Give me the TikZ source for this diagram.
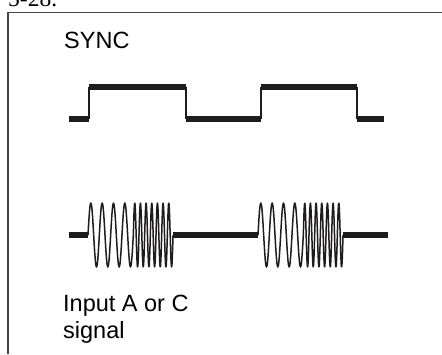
\documentclass[tikz,border=0pt]{standalone}
\usepackage{fontspec}
\setmainfont{Liberation Sans}
\newfontfamily\serifhead{Liberation Serif}
\definecolor{framegray}{RGB}{70,70,70}
\definecolor{traceblack}{RGB}{30,28,28}
\tikzset{
  frameline/.style={line width=1.1pt, draw=framegray},
  thick-trace/.style={line width=6.4pt, draw=traceblack},
  thin-trace/.style={line width=1.5pt, draw=traceblack, line join=round},
  burst-trace/.style={line width=1.5pt, draw=traceblack, line join=round},
  label-text/.style={anchor=base west, inner sep=0pt, font=\fontsize{23.5}{26.5}\selectfont}
}
% #1 = left end of the burst
\newcommand{\burst}[1]{%
  \draw[burst-trace] plot[domain=0:4, samples=81, smooth]
    ({#1+11.33*\x},{235-32*sin(360*\x)});
  \draw[burst-trace] plot[domain=0:7, samples=106, smooth]
    ({#1+45.33+5.67*\x},{235-32*sin(360*\x)});
}

\begin{document}
\begin{tikzpicture}[x=1pt,y=-1pt]
  \useasboundingbox (0,0) rectangle (442,354);
  \node[label-text, font=\serifhead\fontsize{23.5}{26}\selectfont] (figno) at (8,6.5) {5-28.};
  \draw[frameline] (8,354) -- (8,12.5) -- (442,12.5);
  \node[label-text] (sync) at (64,48) {SYNC};
  % square wave
  \foreach \a/\b in {69/89,186/261,357/384} {
    \draw[thick-trace] (\a,119) -- (\b,119);
  }
  \foreach \a/\b in {89/186,261/357} {
    \draw[thick-trace] (\a,87) -- (\b,87);
    \draw[thin-trace] (\a,119) -- (\a,87);
    \draw[thin-trace] (\b,87) -- (\b,119);
  }
  % input signal
  \foreach \a/\b in {69/88,173/258,343/388} {
    \draw[thick-trace] (\a,235) -- (\b,235);
  }
  \foreach \a in {88,258} {
    \burst{\a}
  }
  \node[label-text] (inputa) at (63,311.5) {Input A or C};
  \node[label-text] (inputb) at (63,338) {signal};
\end{tikzpicture}
\end{document}
